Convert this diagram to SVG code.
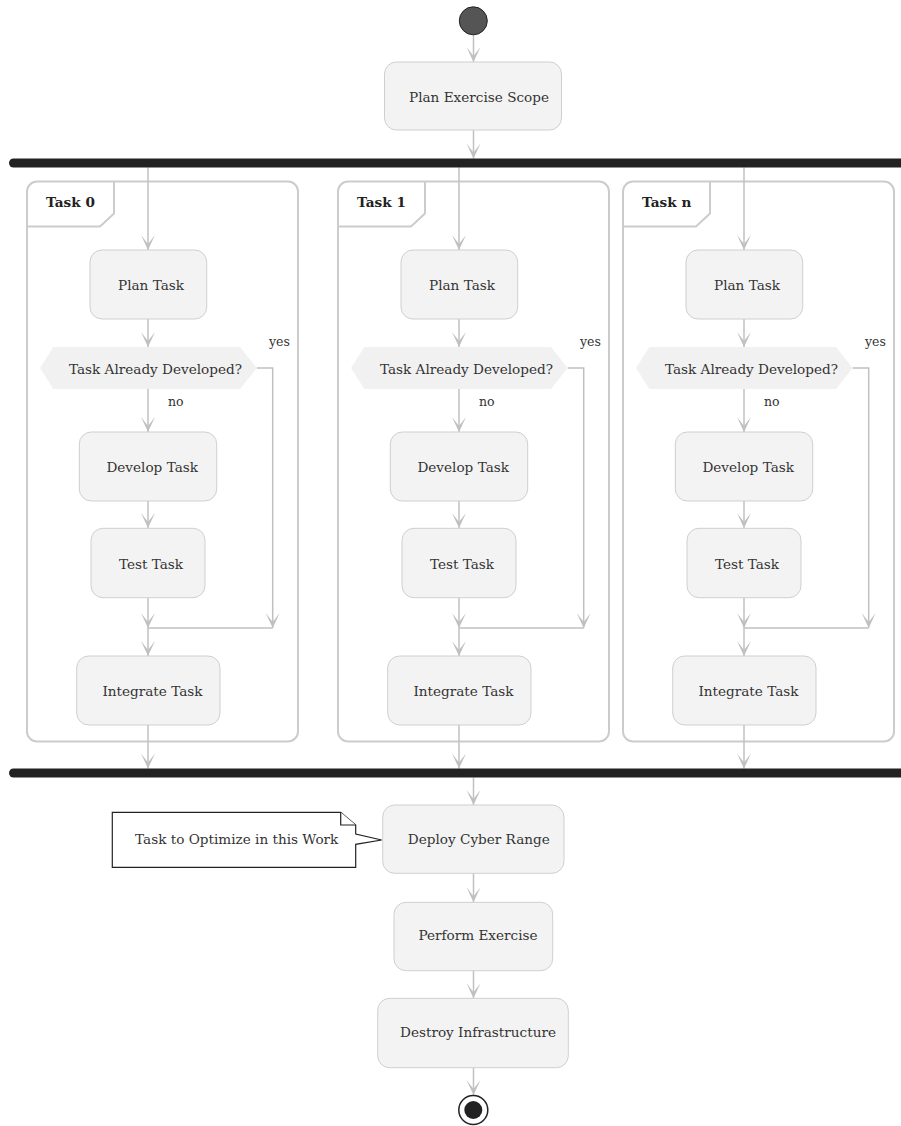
<svg xmlns="http://www.w3.org/2000/svg" width="901" height="1126" viewBox="0 0 901 1126">
  <style>
    .box { fill: #f3f3f3; stroke: #cfcfcf; stroke-width: 1; }
    .dec { fill: #f1f1f1; stroke: none; }
    .part { fill: none; stroke: #cccccc; stroke-width: 2; }
    .bar { fill: #222222; }
    .edge { fill: none; stroke: #c0c0c0; stroke-width: 1.5; }
    .arr { marker-end: url(#head); }
    text { font-family: "DejaVu Serif", serif; fill: #333333; }
    .lbl { font-size: 13.6px; text-anchor: middle; }
    .ttl { font-size: 13.6px; font-weight: bold; fill: #222222; }
    .small { font-size: 12.5px; }
    .note { fill: #ffffff; stroke: #222222; stroke-width: 1.2; stroke-linejoin: miter; }
  </style>
  <defs>
    <marker id="head" viewBox="-16 -8 17 16" refX="0" refY="0" markerWidth="17" markerHeight="16" markerUnits="userSpaceOnUse" orient="auto">
      <path d="M0,0 L-15,-7 L-6,0 L-15,7 Z" fill="#c0c0c0"/>
    </marker>
  </defs>

  <!-- swimlane-like partitions -->
  <g id="part-task0">
    <rect class="part" x="27" y="181.5" width="271" height="560" rx="10"/>
    <path class="part" d="M27,226.5 L100,226.5 L114,213.5 L114,181.5"/>
    <text class="ttl" x="46" y="207">Task 0</text>
  </g>
  <g id="part-task1">
    <rect class="part" x="338" y="181.5" width="271" height="560" rx="10"/>
    <path class="part" d="M338,226.5 L411,226.5 L425,213.5 L425,181.5"/>
    <text class="ttl" x="357" y="207">Task 1</text>
  </g>
  <g id="part-taskn">
    <rect class="part" x="623" y="181.5" width="271" height="560" rx="10"/>
    <path class="part" d="M623,226.5 L696,226.5 L710,213.5 L710,181.5"/>
    <text class="ttl" x="642" y="207">Task n</text>
  </g>

  <!-- connectors -->
  <g id="connectors">
    <path class="edge arr" d="M473.5,35 L473.5,62"/>
    <path class="edge arr" d="M473.5,130 L473.5,158.5"/>

    <!-- Task 0 -->
    <path class="edge arr" d="M148,167.5 L148,250"/>
    <path class="edge arr" d="M148,319 L148,347"/>
    <path class="edge arr" d="M148,389 L148,432"/>
    <path class="edge arr" d="M148,501 L148,528"/>
    <path class="edge arr" d="M148,598 L148,628"/>
    <path class="edge arr" d="M256.7,368 L272.7,368 L272.7,628"/>
    <path class="edge" d="M148,628 L272.7,628"/>
    <path class="edge arr" d="M148,628 L148,656"/>
    <path class="edge arr" d="M148,725 L148,768.5"/>

    <!-- Task 1 -->
    <path class="edge arr" d="M459,167.5 L459,250"/>
    <path class="edge arr" d="M459,319 L459,347"/>
    <path class="edge arr" d="M459,389 L459,432"/>
    <path class="edge arr" d="M459,501 L459,528"/>
    <path class="edge arr" d="M459,598 L459,628"/>
    <path class="edge arr" d="M567.7,368 L583.7,368 L583.7,628"/>
    <path class="edge" d="M459,628 L583.7,628"/>
    <path class="edge arr" d="M459,628 L459,656"/>
    <path class="edge arr" d="M459,725 L459,768.5"/>

    <!-- Task n -->
    <path class="edge arr" d="M744,167.5 L744,250"/>
    <path class="edge arr" d="M744,319 L744,347"/>
    <path class="edge arr" d="M744,389 L744,432"/>
    <path class="edge arr" d="M744,501 L744,528"/>
    <path class="edge arr" d="M744,598 L744,628"/>
    <path class="edge arr" d="M852.7,368 L868.7,368 L868.7,628"/>
    <path class="edge" d="M744,628 L868.7,628"/>
    <path class="edge arr" d="M744,628 L744,656"/>
    <path class="edge arr" d="M744,725 L744,768.5"/>

    <path class="edge arr" d="M473.5,777.5 L473.5,805"/>
    <path class="edge arr" d="M473.5,873.3 L473.5,902.3"/>
    <path class="edge arr" d="M473.5,970.7 L473.5,998.3"/>
    <path class="edge arr" d="M473.5,1067.7 L473.5,1095"/>

    <text class="small" x="269" y="346">yes</text>
    <text class="small" x="168" y="406">no</text>
    <text class="small" x="580" y="346">yes</text>
    <text class="small" x="479" y="406">no</text>
    <text class="small" x="865" y="346">yes</text>
    <text class="small" x="764" y="406">no</text>
  </g>

  <g id="start">
    <circle cx="473.3" cy="20.8" r="14" fill="#555555" stroke="#222222" stroke-width="1"/>
  </g>

  <g id="plan-scope">
    <rect class="box" x="384.5" y="62" width="177" height="68" rx="12"/>
    <text class="lbl" x="479" y="101.5">Plan Exercise Scope</text>
  </g>

  <g id="fork">
    <rect class="bar" x="9" y="158.5" width="900" height="9" rx="4.5"/>
  </g>

  <!-- Task 0 nodes -->
  <g id="t0-plan">
    <rect class="box" x="90" y="250" width="116.7" height="69" rx="12"/>
    <text class="lbl" x="151" y="290">Plan Task</text>
  </g>
  <g id="t0-decision">
    <polygon class="dec" points="40,368 53.3,347 240,347 256.7,368 240,389 53.3,389"/>
    <text class="lbl" x="155.5" y="373.5">Task Already Developed?</text>
  </g>
  <g id="t0-develop">
    <rect class="box" x="79.3" y="432" width="137.4" height="69" rx="12"/>
    <text class="lbl" x="152.2" y="472">Develop Task</text>
  </g>
  <g id="t0-test">
    <rect class="box" x="91" y="528.3" width="114" height="69.4" rx="12"/>
    <text class="lbl" x="151" y="568.5">Test Task</text>
  </g>
  <g id="t0-integrate">
    <rect class="box" x="76.7" y="656" width="143.3" height="69" rx="12"/>
    <text class="lbl" x="152.5" y="696">Integrate Task</text>
  </g>

  <!-- Task 1 nodes -->
  <g id="t1-plan">
    <rect class="box" x="401" y="250" width="116.7" height="69" rx="12"/>
    <text class="lbl" x="462" y="290">Plan Task</text>
  </g>
  <g id="t1-decision">
    <polygon class="dec" points="351,368 364.3,347 551,347 567.7,368 551,389 364.3,389"/>
    <text class="lbl" x="466.5" y="373.5">Task Already Developed?</text>
  </g>
  <g id="t1-develop">
    <rect class="box" x="390.3" y="432" width="137.4" height="69" rx="12"/>
    <text class="lbl" x="463.2" y="472">Develop Task</text>
  </g>
  <g id="t1-test">
    <rect class="box" x="402" y="528.3" width="114" height="69.4" rx="12"/>
    <text class="lbl" x="462" y="568.5">Test Task</text>
  </g>
  <g id="t1-integrate">
    <rect class="box" x="387.7" y="656" width="143.3" height="69" rx="12"/>
    <text class="lbl" x="463.5" y="696">Integrate Task</text>
  </g>

  <!-- Task n nodes -->
  <g id="tn-plan">
    <rect class="box" x="686" y="250" width="116.7" height="69" rx="12"/>
    <text class="lbl" x="747" y="290">Plan Task</text>
  </g>
  <g id="tn-decision">
    <polygon class="dec" points="636,368 649.3,347 836,347 852.7,368 836,389 649.3,389"/>
    <text class="lbl" x="751.5" y="373.5">Task Already Developed?</text>
  </g>
  <g id="tn-develop">
    <rect class="box" x="675.3" y="432" width="137.4" height="69" rx="12"/>
    <text class="lbl" x="748.2" y="472">Develop Task</text>
  </g>
  <g id="tn-test">
    <rect class="box" x="687" y="528.3" width="114" height="69.4" rx="12"/>
    <text class="lbl" x="747" y="568.5">Test Task</text>
  </g>
  <g id="tn-integrate">
    <rect class="box" x="672.7" y="656" width="143.3" height="69" rx="12"/>
    <text class="lbl" x="748.5" y="696">Integrate Task</text>
  </g>

  <g id="join">
    <rect class="bar" x="9" y="768.5" width="900" height="9" rx="4.5"/>
  </g>

  <g id="deploy">
    <rect class="box" x="382.7" y="805" width="181.3" height="68.3" rx="12"/>
    <text class="lbl" x="478.8" y="843.5">Deploy Cyber Range</text>
  </g>

  <g id="note">
    <path class="note" d="M112.3,812.3 L340.7,812.3 L355.7,825 L355.7,834 L381.7,840 L355.7,844.3 L355.7,867.3 L112.3,867.3 Z"/>
    <path class="note" d="M340.7,812.3 L340.7,825 L355.7,825" fill="none"/>
    <text class="lbl" x="236.7" y="843.5">Task to Optimize in this Work</text>
  </g>

  <g id="perform">
    <rect class="box" x="394" y="902.3" width="158.7" height="68.4" rx="12"/>
    <text class="lbl" x="478" y="940">Perform Exercise</text>
  </g>

  <g id="destroy">
    <rect class="box" x="377.7" y="998.3" width="190.6" height="69.4" rx="12"/>
    <text class="lbl" x="478" y="1037">Destroy Infrastructure</text>
  </g>

  <g id="end">
    <circle cx="473.3" cy="1110" r="14.5" fill="#ffffff" stroke="#222222" stroke-width="1.5"/>
    <circle cx="473.3" cy="1110" r="9" fill="#222222"/>
  </g>
</svg>
